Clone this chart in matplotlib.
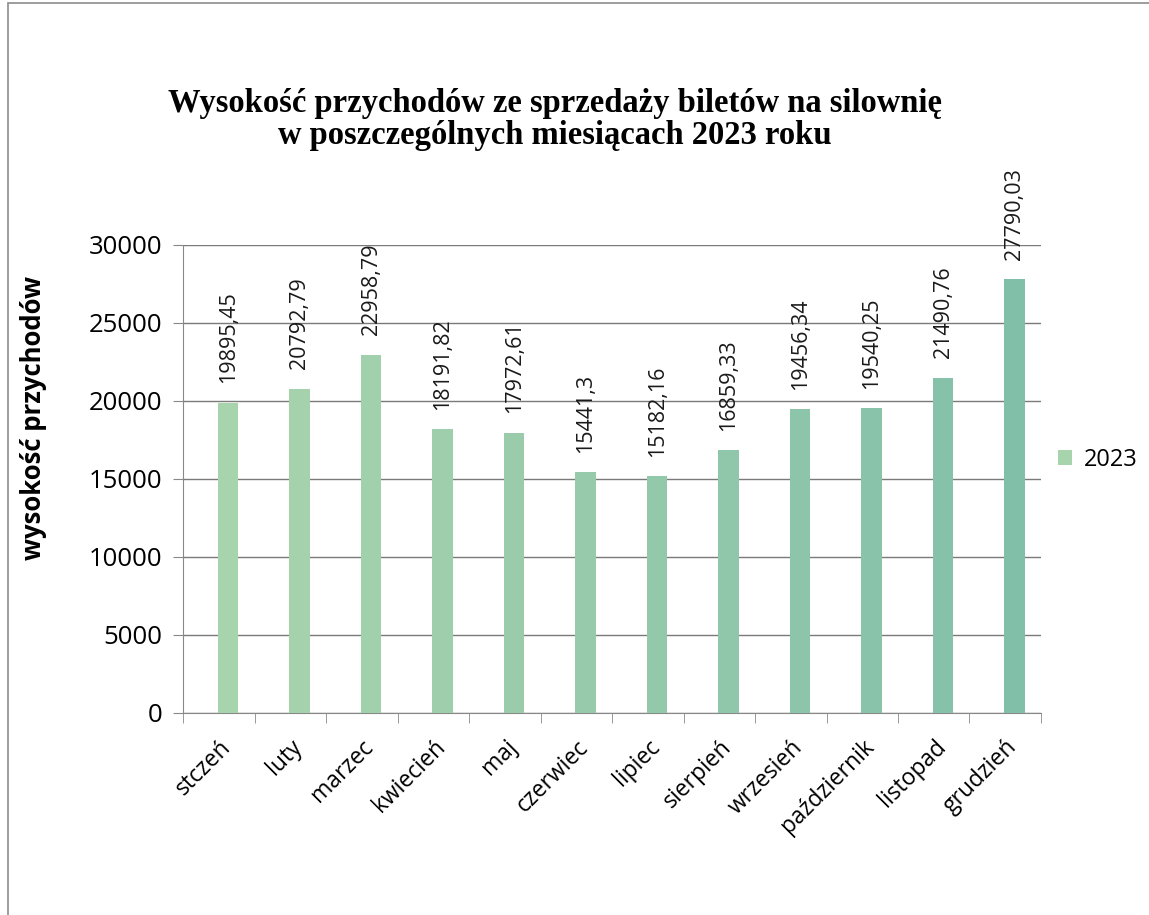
import numpy as np
import matplotlib.pyplot as plt
from matplotlib.patches import Rectangle

# dane
miesiace = ['stczeń', 'luty', 'marzec', 'kwiecień', 'maj', 'czerwiec',
            'lipiec', 'sierpień', 'wrzesień', 'październik', 'listopad', 'grudzień']
przychody = [19895.45, 20792.79, 22958.79, 18191.82, 17972.61, 15441.3,
             15182.16, 16859.33, 19456.34, 19540.25, 21490.76, 27790.03]
etykiety = ['19895,45', '20792,79', '22958,79', '18191,82', '17972,61', '15441,3',
            '15182,16', '16859,33', '19456,34', '19540,25', '21490,76', '27790,03']
y_ticks = [0, 5000, 10000, 15000, 20000, 25000, 30000]

plt.rcParams['font.family'] = ['Open Sans', 'DejaVu Sans']

fig = plt.figure(figsize=(11.49, 9.15), dpi=100)
ax = fig.add_axes([0.1593, 0.2208, 0.7467, 0.5115])

# ramka wykresu
fig.patches.append(Rectangle((0.007, -0.01), 1.0, 1.0 - 0.003 + 0.01,
                             transform=fig.transFigure, fill=False,
                             edgecolor='#8c8c8c', linewidth=1.2))

# kolory slupkow - od jasnozielonego do morskiego (jak na skanie)
c1 = np.array([0.66, 0.83, 0.68])
c2 = np.array([0.51, 0.75, 0.66])
kolory = [tuple(c1 + (c2 - c1) * i / 11) for i in range(12)]

x = np.arange(len(miesiace))
przes = 0.13  # slupki lekko przesuniete w prawo wzgledem srodka kategorii
ax.bar(x + przes, przychody, width=0.29, color=kolory, label='2023', zorder=3)

for xi, v, t in zip(x, przychody, etykiety):
    ax.annotate(t, (xi + przes, v), xytext=(0, 14), textcoords='offset points',
                rotation=90, ha='center', va='bottom', fontsize=15.5, color='#1a1a1a')

ax.set_xlim(-0.5, len(miesiace) - 0.5)
ax.set_ylim(0, 30000)
ax.set_yticks(y_ticks)
ax.set_yticklabels([str(v) for v in y_ticks], fontsize=18.5)
ax.set_xticks(x)
ax.set_xticklabels(miesiace, rotation=45, ha='right', rotation_mode='anchor', fontsize=16.5)
ax.set_xticks(np.arange(-0.5, len(miesiace), 1), minor=True)
ax.tick_params(axis='x', which='major', length=0, pad=16)
ax.tick_params(axis='x', which='minor', length=7, color='#888888')
ax.tick_params(axis='y', length=7, color='#888888', pad=8)

ax.grid(axis='y', color='#7a7a7a', linewidth=1.0, zorder=0)
for s in ['top', 'right']:
    ax.spines[s].set_visible(False)
ax.spines['left'].set_color('#888888')
ax.spines['bottom'].set_color('#888888')

ax.set_ylabel('wysokość przychodów', fontsize=18.5, fontweight='bold')
ax.yaxis.set_label_coords(-0.158, 0.631)

fig.text(0.483, 0.869, 'Wysokość przychodów ze sprzedaży biletów na silownię\n'
         'w poszczególnych miesiącach 2023 roku',
         ha='center', va='center', fontsize=23.5, fontweight='bold',
         family='Liberation Serif', linespacing=1.05)

ax.legend(loc='center left', bbox_to_anchor=(0.995, 0.54), frameon=False,
          fontsize=17, handlelength=0.6, handleheight=0.6, handletextpad=0.5)

fig.savefig('out.png', dpi=100)
